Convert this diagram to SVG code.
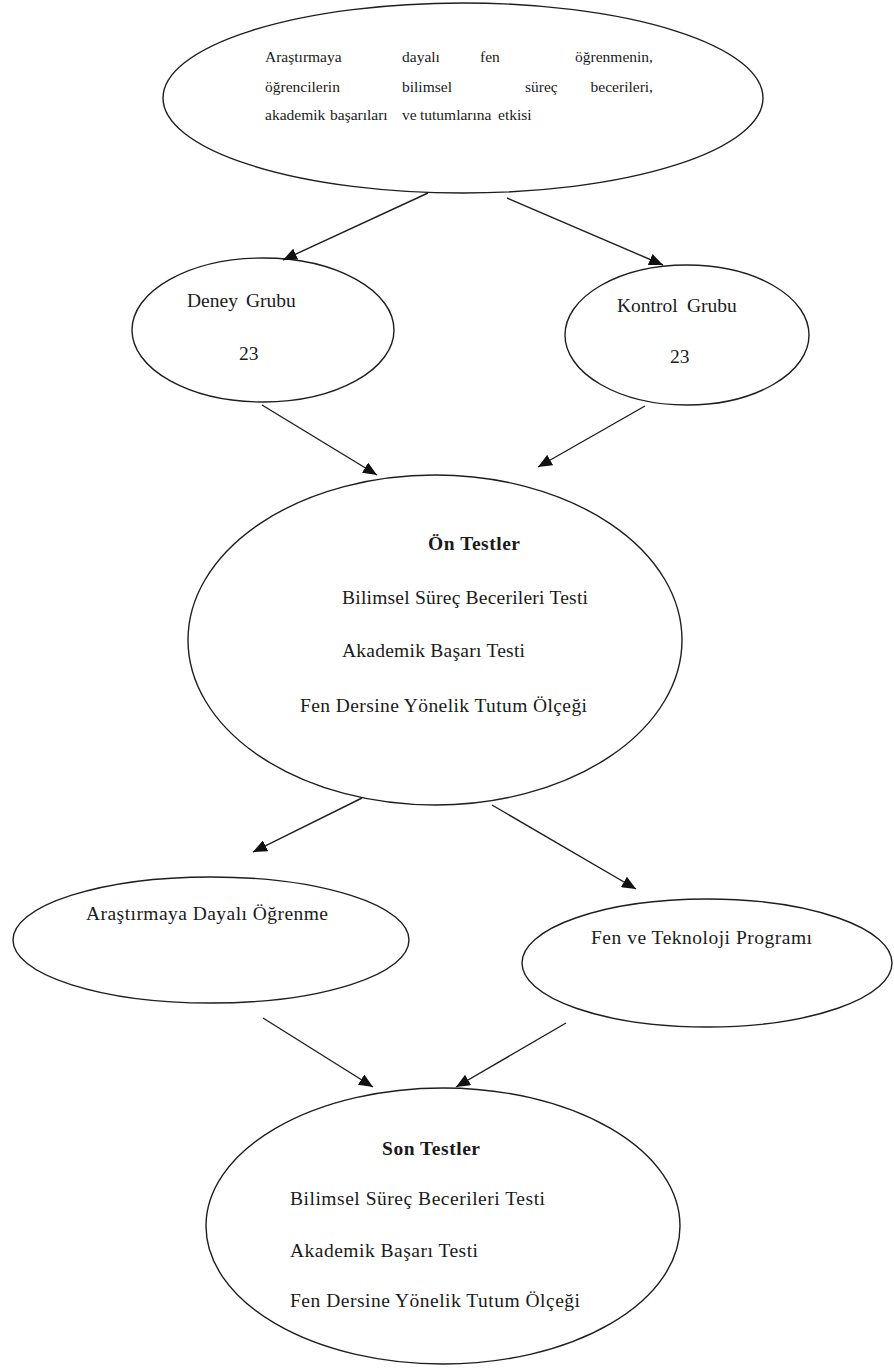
<svg xmlns="http://www.w3.org/2000/svg" width="894" height="1371" viewBox="0 0 894 1371">
<style>
.node ellipse{fill:none;stroke:#1e1e1e;stroke-width:1.4}
text{font-family:"Liberation Serif","Times New Roman",serif;fill:#1a1a1a;font-size:19.5px}
.small{font-size:15.5px}
.b{font-weight:bold}
.conn line{stroke:#1e1e1e;stroke-width:1.4;marker-end:url(#ah)}
</style>
<defs>
<marker id="ah" markerUnits="userSpaceOnUse" markerWidth="15" markerHeight="12" refX="14" refY="6" orient="auto" viewBox="0 0 15 12">
<path d="M0,0 L14,6 L0,12 z" fill="#111"/>
</marker>
</defs>
<rect width="894" height="1371" fill="#fff"/>
<g id="n-top" class="node">
<ellipse cx="463" cy="98" rx="300" ry="95"/>
<text class="small"><tspan x="265" y="62">Araştırmaya</tspan><tspan x="402" y="62">dayalı</tspan><tspan x="480" y="62">fen</tspan></text>
<text class="small" x="653" y="62" text-anchor="end">öğrenmenin,</text>
<text class="small"><tspan x="265" y="92">öğrencilerin</tspan><tspan x="402" y="92">bilimsel</tspan><tspan x="525" y="92">süreç</tspan></text>
<text class="small" x="653" y="92" text-anchor="end">becerileri,</text>
<text class="small"><tspan x="265" y="120">akademik</tspan><tspan x="330" y="120">başarıları</tspan><tspan x="402" y="120">ve</tspan><tspan x="420" y="120">tutumlarına</tspan><tspan x="498" y="120">etkisi</tspan></text>
</g>
<g id="n-deney" class="node">
<ellipse cx="263" cy="330" rx="131" ry="72"/>
<text><tspan x="187" y="307">Deney</tspan><tspan x="246" y="307">Grubu</tspan></text>
<text x="239" y="360">23</text>
</g>
<g id="n-kontrol" class="node">
<ellipse cx="687" cy="335" rx="122" ry="70"/>
<text><tspan x="617" y="312">Kontrol</tspan><tspan x="687" y="312">Grubu</tspan></text>
<text x="670" y="363">23</text>
</g>
<g id="n-ontest" class="node">
<ellipse cx="435" cy="640" rx="247" ry="165"/>
<text class="b" x="428" y="550" textLength="92">Ön Testler</text>
<text x="342" y="604" textLength="246">Bilimsel Süreç Becerileri Testi</text>
<text x="342" y="657" textLength="183">Akademik Başarı Testi</text>
<text x="300" y="712" textLength="287">Fen Dersine Yönelik Tutum Ölçeği</text>
</g>
<g id="n-ado" class="node">
<ellipse cx="211" cy="940" rx="198" ry="63"/>
<text x="86" y="920" textLength="242">Araştırmaya  Dayalı  Öğrenme</text>
</g>
<g id="n-ftp" class="node">
<ellipse cx="707" cy="963" rx="185" ry="64"/>
<text x="591" y="944" textLength="221">Fen ve Teknoloji  Programı</text>
</g>
<g id="n-sontest" class="node">
<ellipse cx="443" cy="1226" rx="237" ry="138"/>
<text class="b" x="382" y="1155" textLength="98">Son Testler</text>
<text x="290" y="1205" textLength="255">Bilimsel Süreç Becerileri  Testi</text>
<text x="290" y="1257" textLength="188">Akademik  Başarı  Testi</text>
<text x="290" y="1307" textLength="290">Fen Dersine  Yönelik  Tutum Ölçeği</text>
</g>
<g id="connectors" class="conn">
<line x1="428" y1="193" x2="283" y2="260"/>
<line x1="507" y1="198" x2="663" y2="265"/>
<line x1="262" y1="405" x2="377" y2="475"/>
<line x1="645" y1="406" x2="538" y2="467"/>
<line x1="362" y1="798" x2="253" y2="852"/>
<line x1="492" y1="805" x2="636" y2="889"/>
<line x1="263" y1="1018" x2="373" y2="1087"/>
<line x1="566" y1="1023" x2="456" y2="1087"/>
</g>
</svg>
